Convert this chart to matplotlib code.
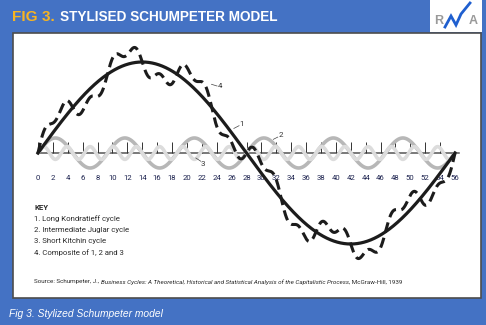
import matplotlib
matplotlib.use('Agg')
import matplotlib.pyplot as plt
import numpy as np
from matplotlib.patches import Rectangle

# ---------------- data ----------------
key_title = "KEY"
key_items = ["1. Long Kondratieff cycle", "2. Intermediate Juglar cycle",
             "3. Short Kitchin cycle", "4. Composite of 1, 2 and 3"]
cycle_periods = [56.0, 56.0 / 6, 56.0 / 18]      # Kondratieff, Juglar, Kitchin (years)
cycle_amplitudes = [1.0, 0.165, 0.07]            # relative heights
x_end = 56
tick_values = list(range(0, 57, 2))
curve_labels = ["1", "2", "3", "4"]
title_prefix = "FIG 3."
title_text = "STYLISED SCHUMPETER MODEL"
caption = "Fig 3. Stylized Schumpeter model"
source_parts = [("Source: Schumpeter, J., ", "normal"),
                ("Business Cycles: A Theoretical, Historical and Statistical Analysis of the Capitalistic Process", "italic"),
                (", McGraw-Hill, 1939", "normal")]

# ---------------- figure ----------------
W, H = 486, 325
BLUE = '#4472c4'
fig = plt.figure(figsize=(W / 100, H / 100), dpi=100)
fig.patch.set_facecolor(BLUE)
renderer = fig.canvas.get_renderer()

bg = fig.add_axes([0, 0, 1, 1])
bg.set_xlim(0, W)
bg.set_ylim(H, 0)
bg.axis('off')
bg.add_patch(Rectangle((13, 33), 468, 265, facecolor='white', edgecolor='#4d4d4d', lw=1.2, zorder=1))


def fit(t, target_w):
    w = t.get_window_extent(renderer).width
    t.set_fontsize(t.get_fontsize() * target_w / w)
    return t


# header
t1 = bg.text(12, 17, title_prefix, color='#f6b422', fontsize=10, fontweight='bold',
             family='Liberation Sans', va='center', ha='left')
fit(t1, 43)
t2 = bg.text(60, 17, title_text, color='white', fontsize=10, fontweight='bold',
             family='Liberation Sans', va='center', ha='left')
fit(t2, 219)

# logo
bg.add_patch(Rectangle((430, 0), 52, 32, facecolor='white', edgecolor='none', zorder=2))
bg.text(438.5, 21, "R", color='#9a9a9a', fontsize=9, fontweight='bold', family='Liberation Sans',
        ha='center', va='center', zorder=3)
bg.text(473, 21, "A", color='#9a9a9a', fontsize=9, fontweight='bold', family='Liberation Sans',
        ha='center', va='center', zorder=3)
bg.plot([445, 451, 456, 461, 470], [27, 16, 25, 14, 3], color='#1f5fcf', lw=2.0,
        solid_joinstyle='miter', zorder=4)

# caption
tc = bg.text(9, 314, caption, color='white', fontsize=7, style='italic',
             family='Liberation Sans', va='center', ha='left')
fit(tc, 153)

# key
txt_col = '#2a2a2a'
tk = bg.text(34, 207, key_title, color=txt_col, fontsize=6, fontweight='bold', family='Roboto',
             va='center', ha='left')
ys = [218.5, 230, 241.5, 253]
items = []
for yy, s in zip(ys, key_items):
    items.append(bg.text(34, yy, s, color=txt_col, fontsize=6, family='Roboto', va='center', ha='left'))
wmax = max(t.get_window_extent(renderer).width for t in items)
scale = 96 / wmax
for t in items:
    t.set_fontsize(t.get_fontsize() * scale)
tk.set_fontsize(tk.get_fontsize() * scale)

# source line
srcs = []
x0 = 34
for s, st in source_parts:
    t = bg.text(x0, 282, s, color=txt_col, fontsize=4, style=st, family='Roboto', va='center', ha='left')
    x0 += t.get_window_extent(renderer).width
    srcs.append(t)
total = x0 - 34
sc = 363 / total
x0 = 34
for t in srcs:
    t.set_fontsize(t.get_fontsize() * sc)
    t.set_x(x0)
    x0 += t.get_window_extent(renderer).width

# ---------------- chart axes ----------------
px_per_x = 417 / 56
px_per_y = 91
ylo, yhi = -1.2, 1.2
ax_h = (yhi - ylo) * px_per_y
ax = fig.add_axes([38 / W, (H - (153 + yhi * px_per_y)) / H, 417 / W, ax_h / H])
ax.set_xlim(0, 56)
ax.set_ylim(ylo, yhi)
ax.axis('off')
ax.patch.set_alpha(0)

x = np.linspace(0, x_end, 3000)
waves = [a * np.sin(2 * np.pi * x / p) for a, p in zip(cycle_amplitudes, cycle_periods)]
composite = waves[0] + waves[1] + waves[2]

ax.plot([0, 56.6], [0, 0], color='#555555', lw=1.1, zorder=1, clip_on=False)
ax.vlines(tick_values, 0, 0.12, color='#333333', lw=0.7, zorder=1)
for t in tick_values:
    ax.text(t, -0.275, str(t), color='#1e2450', fontsize=5.6, family='Roboto',
            ha='center', va='center')

ax.plot(x, waves[1], color='#b7b7b7', lw=2.6, zorder=2, clip_on=False, solid_capstyle='round')
ax.plot(x, waves[2], color='#dcdcdc', lw=2.6, zorder=2.5, clip_on=False, solid_capstyle='round')
ax.plot(x, waves[0], color='#1c1c1c', lw=2.3, zorder=4, clip_on=False)
ax.plot(x, composite, color='#1c1c1c', lw=2.2, zorder=5, clip_on=False,
        linestyle=(0, (3.4, 1.8)))

# curve labels with leaders
lab_pos = {"1": (27.3, 0.32), "2": (32.6, 0.198), "3": (22.2, -0.12), "4": (24.5, 0.736)}
leaders = {"1": ((26.3, 0.27), (27.0, 0.30)), "2": ((31.6, 0.15), (32.2, 0.175)),
           "3": ((21.2, -0.055), (21.85, -0.09)), "4": ((23.3, 0.755), (24.05, 0.736))}
for lab in curve_labels:
    xx, yy = lab_pos[lab]
    ax.text(xx, yy, lab, color='#333333', fontsize=5.8, family='Roboto', ha='center', va='center', zorder=6)
    (a1, b1), (a2, b2) = leaders[lab]
    ax.plot([a1, a2], [b1, b2], color='#444444', lw=0.5, zorder=6)

fig.savefig('out.png', dpi=100, facecolor=BLUE)
